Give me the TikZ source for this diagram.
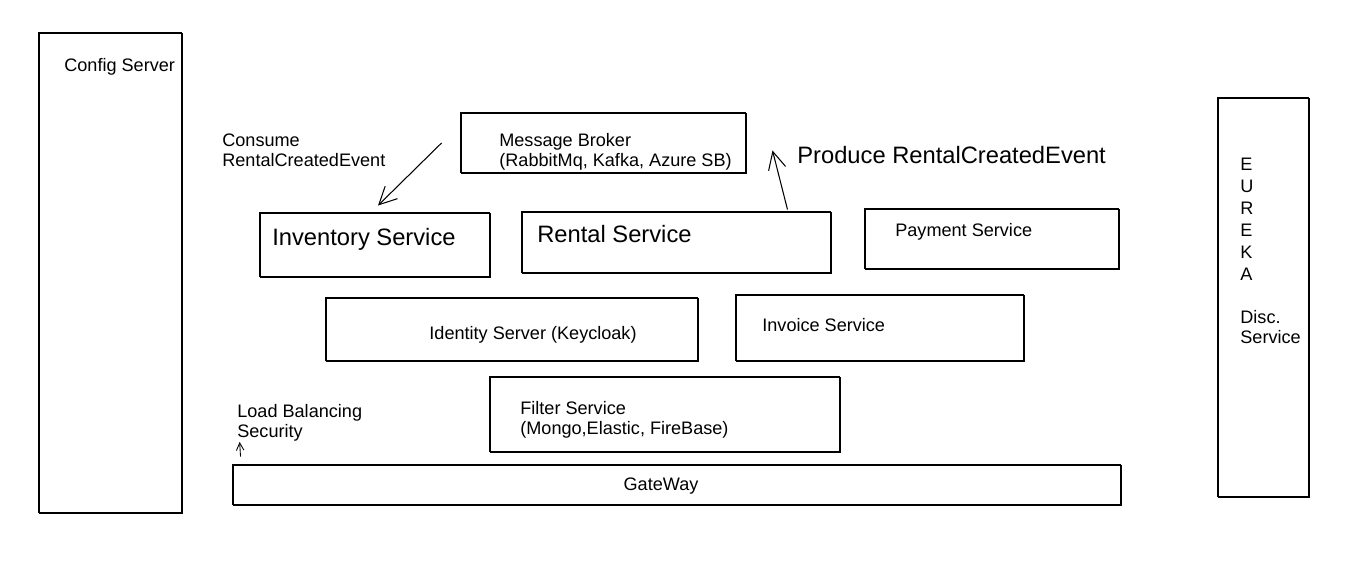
\documentclass[tikz,border=0pt]{standalone}
\usepackage{fontspec}
\setmainfont{Liberation Sans}
\usepackage{tikz}
\usetikzlibrary{arrows.meta,positioning,fit,calc}

\begin{document}
\begin{tikzpicture}[x=0.02cm, y=-0.02cm, every node/.style={font=\fontsize{10.3}{11.5}\selectfont}]
\tikzset{box/.style={draw, line width=0.55pt, inner sep=0pt, preaction={draw, line width=0.35pt, transform canvas={shift={(0.7pt,-0.6pt)}}}}}
\tikzset{txt/.style={anchor=west, inner sep=0pt, align=left}}
\tikzset{big/.style={font=\fontsize{13.5}{15}\selectfont}}
\tikzset{arrow/.style={-{Straight Barb[length=3.5mm, width=3.5mm]}, line width=0.6pt}}
\useasboundingbox (0,0) rectangle (1358,569);
\node[box, fit={(38,32) (181,512)}] (config) {};
\node[box, fit={(1217,97) (1308,496)}] (eureka) {};
\node[box, fit={(460,112) (745,172)}] (broker) {};
\node[box, fit={(259,212) (489,276)}] (inventory) {};
\node[box, fit={(521,211) (830,272)}] (rental) {};
\node[box, fit={(864,208) (1118,268)}] (payment) {};
\node[box, fit={(325,297) (697,360)}] (identity) {};
\node[box, fit={(735,294) (1023,360)}] (invoice) {};
\node[box, fit={(489,376) (839,451)}] (filter) {};
\node[box, fit={(232,464) (1120,504)}] (gateway) {};
\node[txt] (configtxt) at (64,67) {Config Server};
\node[txt, font=\fontsize{10.3}{12.5}\selectfont] (eurekatxt) at (1240,251) {E\\U\\R\\E\\K\\A\\[12pt]Disc.\\[-1pt]Service};
\node[txt] (brokertxt) at (499,152) {Message Broker\\(RabbitMq, Kafka, Azure SB)};
\node[txt] (consume) at (222,150) {Consume\\RentalCreatedEvent};
\node[txt, big] (produce) at (797,155) {Produce RentalCreatedEvent};
\node[txt, big] (inventorytxt) at (272,239) {Inventory Service};
\node[txt, big] (rentaltxt) at (537,234) {Rental Service};
\node[txt] (paymenttxt) at (895,232) {Payment Service};
\node[inner sep=0pt] (identitytxt) at (533,335) {Identity Server (Keycloak)};
\node[txt] (invoicetxt) at (762,325) {Invoice Service};
\node[txt] (filtertxt) at (520,420) {Filter Service\\(Mongo,Elastic, FireBase)};
\node[txt] (lbtxt) at (237,423) {Load Balancing\\Security};
\node[inner sep=0pt] (gatewaytxt) at (661,486) {GateWay};
\draw[arrow] ($(broker.west)+(-18,1)$) -- ($(inventory.north)+(4,-6)$);
\draw[arrow] ($(rental.north east)+(-43,-1)$) -- ($(broker.south east)+(27,-22)$);
\draw[-{Straight Barb[length=1.5mm, width=1.5mm]}, line width=0.5pt] ($(gateway.north west)+(9,-7)$) -- ([xshift=3\pgflinewidth]lbtxt.south west);
\end{tikzpicture}
\end{document}
